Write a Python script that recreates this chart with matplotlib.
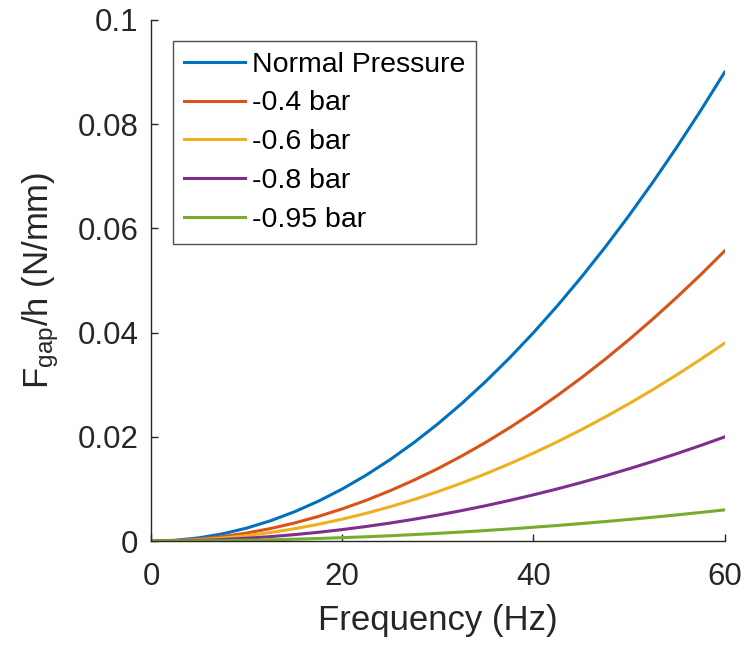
import matplotlib
matplotlib.use('Agg')
import matplotlib.pyplot as plt

plt.rcParams['font.family'] = ['Liberation Sans', 'DejaVu Sans']
plt.rcParams['mathtext.fontset'] = 'custom'
plt.rcParams['mathtext.rm'] = 'Liberation Sans'
plt.rcParams['mathtext.it'] = 'Liberation Sans:italic'

# Frequency samples (Hz) and values (N/mm)
freq = [0, 2.5, 5, 7.5, 10, 12.5, 15, 17.5, 20, 22.5, 25, 27.5, 30,
        32.5, 35, 37.5, 40, 42.5, 45, 47.5, 50, 52.5, 55, 57.5, 60]
normal = [0, 0.00016, 0.00063, 0.00141, 0.0025, 0.00391, 0.00563, 0.00766,
          0.0100, 0.01266, 0.01563, 0.01891, 0.0225, 0.02641, 0.03063,
          0.03516, 0.0400, 0.04516, 0.05063, 0.05641, 0.0625, 0.06891,
          0.07563, 0.08266, 0.0900]
bar_04 = [0, 0.0001, 0.00039, 0.00087, 0.00155, 0.00242, 0.00348, 0.00474,
          0.00619, 0.00783, 0.00967, 0.0117, 0.01392, 0.01634, 0.01895,
          0.02176, 0.02476, 0.02795, 0.03133, 0.03491, 0.03868, 0.04265,
          0.0468, 0.05115, 0.0557]
bar_06 = [0, 0.00007, 0.00026, 0.00059, 0.00106, 0.00165, 0.00238, 0.00323,
          0.00422, 0.00534, 0.0066, 0.00798, 0.0095, 0.01115, 0.01293,
          0.01484, 0.01689, 0.01907, 0.02137, 0.02382, 0.02639, 0.02909,
          0.03193, 0.0349, 0.0380]
bar_08 = [0, 0.00003, 0.00014, 0.00031, 0.00056, 0.00087, 0.00125, 0.0017,
          0.00222, 0.00281, 0.00347, 0.0042, 0.0050, 0.00587, 0.0068,
          0.00781, 0.00889, 0.01003, 0.01125, 0.01253, 0.01389, 0.01531,
          0.0168, 0.01837, 0.0200]
bar_095 = [0, 0.00001, 0.00004, 0.00009, 0.00017, 0.00026, 0.00038, 0.00051,
           0.00067, 0.00084, 0.00104, 0.00126, 0.0015, 0.00176, 0.00204,
           0.00234, 0.00267, 0.00301, 0.00338, 0.00376, 0.00417, 0.00459,
           0.00504, 0.00551, 0.0060]

series = [
    ('Normal Pressure', normal, '#0072BD'),
    ('-0.4 bar', bar_04, '#D95319'),
    ('-0.6 bar', bar_06, '#EDB120'),
    ('-0.8 bar', bar_08, '#7E2F8E'),
    ('-0.95 bar', bar_095, '#77AC30'),
]

fig = plt.figure(figsize=(7.51, 6.45), dpi=100)
ax = fig.add_axes([0.201, 0.161, 0.764, 0.808])

for label, vals, col in series:
    ax.plot(freq, vals, color=col, linewidth=2.2, label=label)

ax.set_xlim(0, 60)
ax.set_ylim(0, 0.1)
ax.set_xticks([0, 20, 40, 60])
ax.set_yticks([0, 0.02, 0.04, 0.06, 0.08, 0.1])
ax.set_yticklabels(['0', '0.02', '0.04', '0.06', '0.08', '0.1'])

axcol = '#262626'
for s in ['top', 'right']:
    ax.spines[s].set_visible(False)
for s in ['left', 'bottom']:
    ax.spines[s].set_color(axcol)
    ax.spines[s].set_linewidth(1.0)
ax.tick_params(direction='in', length=5, width=1.0, colors=axcol,
               labelsize=22.5)
ax.tick_params(axis='x', pad=15)
ax.tick_params(axis='y', pad=9)

ax.set_xlabel('Frequency (Hz)', fontsize=25, color=axcol, labelpad=9)
ax.set_ylabel(r'F$_{\mathrm{gap}}$/h (N/mm)', fontsize=25, color=axcol,
              labelpad=12)

leg = ax.legend(loc='upper left', bbox_to_anchor=(0.038, 0.96), fontsize=20.5,
                frameon=True, fancybox=False, edgecolor=axcol,
                handlelength=2.15, handletextpad=0.25, labelspacing=0.45,
                borderpad=0.38, borderaxespad=0)
leg.get_frame().set_linewidth(1.0)

fig.savefig('out.png', dpi=100)
